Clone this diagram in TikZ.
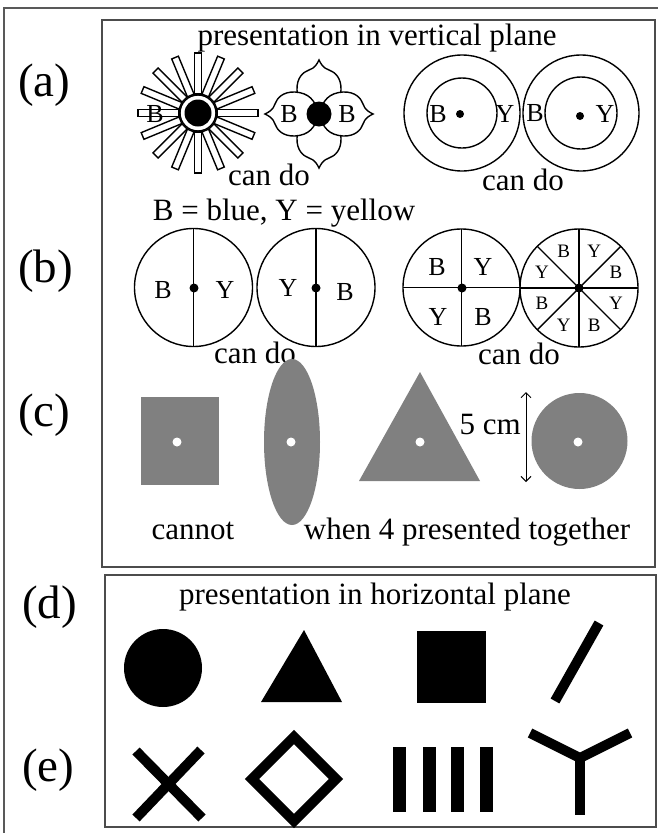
\documentclass[tikz,border=0pt]{standalone}
\usepackage{fontspec}
\setmainfont{Liberation Serif}
\usetikzlibrary{arrows.meta}
\begin{document}
\begin{tikzpicture}[x=1pt,y=-1pt,
  boxframe/.style={draw=black!70, line width=1.6},
  txt/.style={inner sep=0, anchor=base, font=\fontsize{31}{31}\selectfont},
  sectag/.style={inner sep=0, anchor=base west, font=\fontsize{47}{47}\selectfont},
  lbl/.style={inner sep=0, font=\fontsize{26}{26}\selectfont},
  slbl/.style={inner sep=0, font=\fontsize{19}{19}\selectfont},
  ln/.style={draw=black, line width=1.4},
  grayshape/.style={fill=black!50, draw=none},
  hole/.style={fill=white, draw=none},
  thickbar/.style={draw=black, line width=10, line cap=butt},
  dimarrow/.style={line width=1, {Straight Barb[length=5pt,width=10pt]}-{Straight Barb[length=5pt,width=10pt]}},
]
\useasboundingbox (0,0) rectangle (658,833);
\fill[white] (0,0) rectangle (658,833);

% frames
\draw[draw=black!65, line width=1.4] (4,8) rectangle (664,840);
\draw[boxframe] (102,20) rectangle (655,567);
\draw[boxframe] (105,575) rectangle (656,827);

% section tags
\node[sectag] (ta) at (18,96) {(a)};
\node[sectag] (tb) at (18,282) {(b)};
\node[sectag] (tc) at (18,426) {(c)};
\node[sectag] (td) at (22,618) {(d)};
\node[sectag] (te) at (22,781) {(e)};

% ---------- vertical plane ----------
\node[txt] (titleV) at (377,45) {presentation in vertical plane};

% sunburst
\begin{scope}[shift={(198,113)}]
  \foreach \a in {0,22.5,...,337.5}
    \draw[ln, fill=white, rotate=\a] (19,-3.6) rectangle (60,3.6);
  \draw[ln, fill=white] (0,0) circle (18);
  \fill (0,0) circle (13.5);
\end{scope}
\node[lbl] (sunB) at (155,114) {B};

% four-petal flower (onion-shaped petals)
\begin{scope}[shift={(319,114)}]
  \foreach \a in {90,270,180,0}
    \draw[ln, fill=white, rotate=\a] (0,0) .. controls (4,-14) and (10,-21) .. (24,-22)
      .. controls (36,-22.5) and (42,-16) .. (44,-10)
      .. controls (46,-4) and (50,-2) .. (54,0)
      .. controls (50,2) and (46,4) .. (44,10)
      .. controls (42,16) and (36,22.5) .. (24,22)
      .. controls (10,21) and (4,14) .. (0,0) -- cycle;
  \fill (0,0) circle (12.5);
\end{scope}
\node[lbl] (flB1) at (289,114) {B};
\node[lbl] (flB2) at (347,114) {B};
\node[txt] (cando1) at (269,185) {can do};

% concentric pairs
\draw[ln] (462,113) circle (58);
\draw[ln] (462,113) circle (35);
\fill (460,114) circle (4);
\node[lbl] (c1B) at (438,114) {B};
\node[lbl] (c1Y) at (505,114) {Y};
\draw[ln] (581,113) circle (58);
\draw[ln] (581,113) circle (36);
\fill (580,116) circle (4);
\node[lbl] (c2B) at (535,113) {B};
\node[lbl] (c2Y) at (605,114) {Y};
\node[txt] (cando2) at (523,190) {can do};

\node[txt] (legend) at (284,220) {B = blue, Y = yellow};

% halves
\draw[ln] (193.5,287.5) circle (59);
\draw[ln] (193.5,228.5) -- (193.5,346.5);
\fill (194,288) circle (4.5);
\node[lbl] (h1B) at (163,290) {B};
\node[lbl] (h1Y) at (225,290) {Y};
\draw[ln] (316,287.5) circle (59);
\draw[ln] (316,228.5) -- (316,346.5);
\fill (316,288) circle (4.5);
\node[lbl] (h2Y) at (288,288) {Y};
\node[lbl] (h2B) at (345,292) {B};
\node[txt] (cando3) at (255,363) {can do};

% quarters
\draw[ln] (461.5,287.5) circle (58.5);
\draw[ln] (403,287.5) -- (520,287.5);
\draw[ln] (461.5,229) -- (461.5,346);
\fill (462,288) circle (4.5);
\node[lbl] (q1) at (437,267) {B};
\node[lbl] (q2) at (483,267) {Y};
\node[lbl] (q3) at (438,317) {Y};
\node[lbl] (q4) at (483,317) {B};

% eighths
\begin{scope}[shift={(579,288)}]
  \draw[ln] (0,0) circle (59);
  \foreach \a in {0,45,90,135}
    \draw[ln, rotate=\a] (-59,0) -- (59,0);
  \fill (0,0) circle (4.5);
  \node[slbl] (o1) at (-112.5:40) {B};
  \node[slbl] (o2) at (-67.5:40) {Y};
  \node[slbl] (o3) at (-22.5:40) {B};
  \node[slbl] (o4) at (22.5:40) {Y};
  \node[slbl] (o5) at (67.5:40) {B};
  \node[slbl] (o6) at (112.5:40) {Y};
  \node[slbl] (o7) at (157.5:40) {B};
  \node[slbl] (o8) at (-157.5:40) {Y};
\end{scope}
\node[txt] (cando4) at (519,364) {can do};

% grey test shapes
\fill[grayshape] (141,397) rectangle (219,485);
\fill[hole] (177,442) circle (4.5);
\fill[grayshape] (292,442) ellipse [x radius=28, y radius=83];
\fill[hole] (291,442) circle (4.5);
\fill[grayshape] (420,372) -- (480,481) -- (359,481) -- cycle;
\fill[hole] (420,442) circle (4.5);
\fill[grayshape] (579.5,441) circle (48);
\fill[hole] (578,442) circle (4.5);
\coordinate (arTop) at (526,392);
\coordinate (arBot) at (526,482);
\draw[dimarrow] (arTop) -- (arBot);
\node[txt, anchor=base east] (five) at (521,434) {5 cm};
\node[txt] (cannot) at (193,539) {cannot};
\node[txt] (together) at (467,539) {when 4 presented together};

% ---------- horizontal plane ----------
\node[txt] (titleH) at (375,604) {presentation in horizontal plane};
\fill (163,668) circle (39);
\fill (304,630) -- (342,702) -- (261,702) -- cycle;
\fill (417,631) rectangle (486,703);
\draw[thickbar] (555,701) -- (599,623);

\draw[thickbar] (136,751) -- (202,818);
\draw[thickbar] (201,750) -- (136,818);
\draw[line width=10, miter limit=10] (294,737) -- (336,779) -- (294,821) -- (252,779) -- cycle;
\foreach \x in {399,429,457.5,486}
  \fill (\x-6.5,747) rectangle (\x+6.5,812);
\draw[thickbar, line join=miter] (530,733) -- (580,758) -- (630,733);
\draw[thickbar] (580,758) -- (580,815);
\end{tikzpicture}
\end{document}
